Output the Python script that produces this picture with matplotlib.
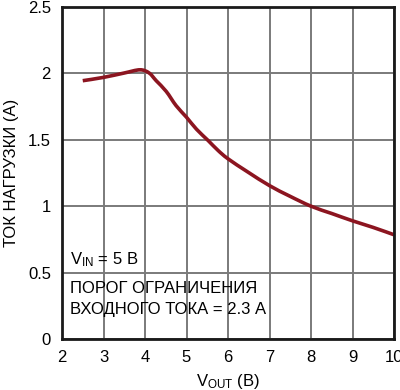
import matplotlib
matplotlib.use("Agg")
import matplotlib.pyplot as plt
from matplotlib.path import Path
from matplotlib.patches import PathPatch
import numpy as np

plt.rcParams['font.family'] = ['Liberation Sans', 'DejaVu Sans']
plt.rcParams['mathtext.fontset'] = 'custom'
plt.rcParams['mathtext.rm'] = 'Liberation Sans'

vout = [2.5, 3.0, 3.5, 3.88, 4.1, 4.27, 4.51, 4.75, 5.0, 5.24, 5.52, 5.76, 6.0,
        6.48, 7.0, 7.48, 8.0, 8.5, 9.0, 9.5, 10.0]
iload = [1.945, 1.97, 2.003, 2.027, 2.003, 1.945, 1.865, 1.757, 1.67, 1.58, 1.495,
         1.42, 1.357, 1.257, 1.155, 1.077, 1.0, 0.945, 0.89, 0.84, 0.785]
xticks = [2, 3, 4, 5, 6, 7, 8, 9, 10]
yticks = [0, 0.5, 1, 1.5, 2, 2.5]
ytick_labels = ['0', '0.5', '1', '1.5', '2', '2.5']

fig = plt.figure(figsize=(4.0, 3.9), dpi=100)
ax = fig.add_axes([62/400, 1-339/390, (394-62)/400, (339-7)/390])

ax.set_xlim(2, 10)
ax.set_ylim(0, 2.5)
ax.set_xticks(xticks)
ax.set_yticks(yticks)
ax.set_yticklabels(ytick_labels)

# grid lines at the tick positions
ax.vlines(xticks, 0, 2.5, colors='#7a7a7a', linewidths=1.4, zorder=2)
ax.hlines(yticks, 2, 10, colors='#7a7a7a', linewidths=1.4, zorder=2)

# smooth curve through the read points (Catmull-Rom as cubic Bezier path)
x = np.array(vout); y = np.array(iload)
verts = [(x[0], y[0])]
codes = [Path.MOVETO]
n = len(x)
for i in range(n - 1):
    p0 = np.array([x[max(i-1, 0)], y[max(i-1, 0)]])
    p1 = np.array([x[i], y[i]])
    p2 = np.array([x[i+1], y[i+1]])
    p3 = np.array([x[min(i+2, n-1)], y[min(i+2, n-1)]])
    c1 = p1 + (p2 - p0) / 6.0
    c2 = p2 - (p3 - p1) / 6.0
    verts += [tuple(c1), tuple(c2), tuple(p2)]
    codes += [Path.CURVE4, Path.CURVE4, Path.CURVE4]
ax.add_patch(PathPatch(Path(verts, codes), facecolor='none', edgecolor='#8c1520',
                       lw=2.6, capstyle='butt', zorder=3))

ax.set_xlim(2, 10)
ax.set_ylim(0, 2.5)
ax.tick_params(length=0, labelsize=12, pad=8)
for s in ax.spines.values():
    s.set_linewidth(2)
    s.set_color('#1a1a1a')
    s.set_zorder(4)

ax.set_xlabel(r'$\mathregular{V_{OUT}}$ (В)', fontsize=12, labelpad=5)
ax.set_ylabel('ТОК НАГРУЗКИ (А)', fontsize=12, labelpad=6)

ax.text(0.025, 0.225, r'$\mathregular{V_{IN}}$ = 5 В', transform=ax.transAxes,
        fontsize=12, va='baseline', ha='left', zorder=5)
ax.text(0.025, 0.14, 'ПОРОГ ОГРАНИЧЕНИЯ', transform=ax.transAxes,
        fontsize=12, va='baseline', ha='left', zorder=5)
ax.text(0.025, 0.075, 'ВХОДНОГО ТОКА = 2.3 А', transform=ax.transAxes,
        fontsize=12, va='baseline', ha='left', zorder=5)

fig.savefig('out.png', dpi=100)
